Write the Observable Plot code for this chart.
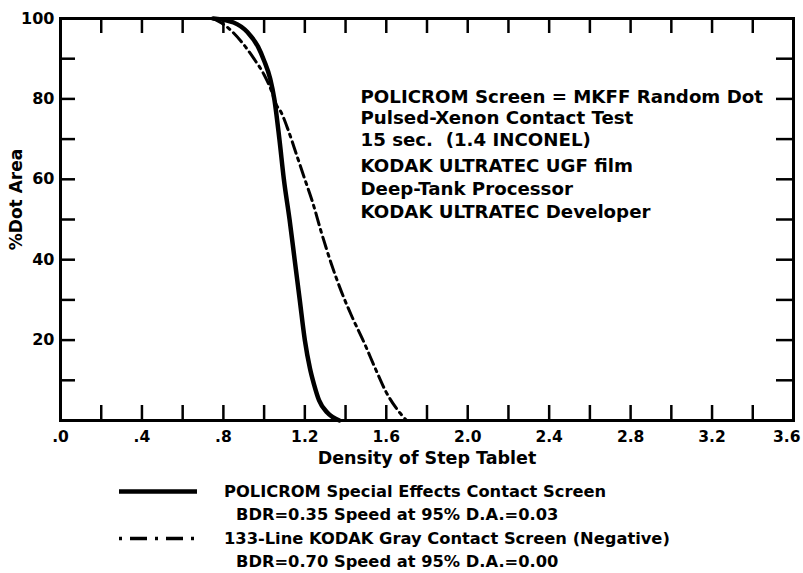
<!DOCTYPE html>
<html>
<head>
<meta charset="utf-8">
<script src="https://cdn.jsdelivr.net/npm/d3@7"></script>
<script src="https://cdn.jsdelivr.net/npm/@observablehq/plot@0.6"></script>
<style>
  html, body { margin: 0; padding: 0; background: #fff; }
  #wrap { position: relative; width: 803px; height: 573px; overflow: hidden; font-family: "DejaVu Sans", sans-serif; font-weight: bold; color: #000; }
  #legend { position: absolute; left: 0; top: 470px; width: 803px; height: 103px; }
  .lrow { position: absolute; left: 0; width: 803px; height: 23px; }
  .lrow svg { position: absolute; left: 118px; top: 0; }
  .ltext { position: absolute; font-size: 16.3px; line-height: 23px; white-space: nowrap; }
</style>
</head>
<body>
<div id="wrap">
  <div id="chart"></div>
  <div id="legend"></div>
</div>
<script>
// ---- data ----
const policromDensity = [0.75, 0.85, 0.92, 0.97, 1.00, 1.03, 1.05, 1.075, 1.097, 1.125, 1.15, 1.175, 1.20, 1.225, 1.245, 1.27, 1.31, 1.37];
const policromDotArea = [100, 99, 96.5, 93, 89.5, 85, 80, 70, 60, 50, 40, 30, 20, 13, 9, 5, 2, 0];

const grayDensity = [0.75, 0.82, 0.90, 0.95, 1.00, 1.04, 1.06, 1.08, 1.12, 1.16, 1.20, 1.24, 1.28, 1.33, 1.38, 1.43, 1.49, 1.55, 1.60, 1.65, 1.70];
const grayDotArea = [100, 97.8, 93.5, 90, 86, 81.5, 78.5, 77, 72, 66, 60, 54, 47, 39, 32, 26, 19.5, 12.5, 7, 3, 0];

const xTickValues = [0, 0.4, 0.8, 1.2, 1.6, 2.0, 2.4, 2.8, 3.2, 3.6];
const xTickLabels = [".0", ".4", ".8", "1.2", "1.6", "2.0", "2.4", "2.8", "3.2", "3.6"];
const xMinorTicks = [0.2, 0.4, 0.6, 0.8, 1.0, 1.2, 1.4, 1.6, 1.8, 2.0, 2.2, 2.4, 2.6, 2.8, 3.0, 3.2, 3.4];
const yTickValues = [20, 40, 60, 80, 100];
const yTickLabels = ["20", "40", "60", "80", "100"];
const yMinorTicks = [10, 20, 30, 40, 50, 60, 70, 80, 90];

const xAxisLabel = "Density of Step Tablet";
const yAxisLabel = "%Dot Area";
const annotationGroup1 = ["POLICROM Screen = MKFF Random Dot", "Pulsed-Xenon Contact Test", "15 sec.  (1.4 INCONEL)"];
const annotationGroup2 = ["KODAK ULTRATEC UGF film", "Deep-Tank Processor", "KODAK ULTRATEC Developer"];

const seriesNames = ["POLICROM Special Effects Contact Screen", "133-Line KODAK Gray Contact Screen (Negative)"];
const seriesNotes = ["BDR=0.35 Speed at 95% D.A.=0.03", "BDR=0.70 Speed at 95% D.A.=0.00"];

// ---- build tables ----
const policrom = policromDensity.map((x, i) => ({x, y: policromDotArea[i]}));
const gray = grayDensity.map((x, i) => ({x, y: grayDotArea[i]}));
const xLabelData = xTickValues.map((v, i) => ({v, label: xTickLabels[i]}));
const yLabelData = yTickValues.map((v, i) => ({v, label: yTickLabels[i]}));

const W = 803, H = 470;
const mL = 60, mR = 10, mT = 18, mB = 50;
const innerW = W - mL - mR, innerH = H - mT - mB;
const xDomain = [0, 3.6], yDomain = [0, 100];
// tick lengths (pixels) expressed in data units so rules go through the scales
const tickPx = 15, rightTickPx = 17;
const tickLenY = tickPx * (yDomain[1] - yDomain[0]) / innerH;
const tickLenX = tickPx * (xDomain[1] - xDomain[0]) / innerW;
const rightLenX = rightTickPx * (xDomain[1] - xDomain[0]) / innerW;

const chart = Plot.plot({
  width: W,
  height: H,
  marginLeft: mL,
  marginRight: mR,
  marginTop: mT,
  marginBottom: mB,
  style: {fontFamily: "DejaVu Sans, sans-serif", fontWeight: "bold", fontSize: "17px", color: "#000", background: "#fff", overflow: "visible"},
  x: {domain: xDomain, axis: null},
  y: {domain: yDomain, axis: null},
  marks: [
    // inward ticks
    Plot.ruleX(xMinorTicks, {x: d => d, y1: yDomain[0], y2: yDomain[0] + tickLenY, stroke: "#000", strokeWidth: 2.5}),
    Plot.ruleX(xMinorTicks, {x: d => d, y1: yDomain[1], y2: yDomain[1] - tickLenY, stroke: "#000", strokeWidth: 2.5}),
    Plot.ruleY(yMinorTicks, {y: d => d, x1: xDomain[0], x2: xDomain[0] + tickLenX, stroke: "#000", strokeWidth: 2.5}),
    Plot.ruleY(yMinorTicks, {y: d => d, x1: xDomain[1], x2: xDomain[1] - rightLenX, stroke: "#000", strokeWidth: 2.5}),
    Plot.frame({stroke: "#000", strokeWidth: 3}),
    // tick labels
    Plot.text(xLabelData.slice(0, -1), {x: "v", text: "label", frameAnchor: "bottom", dy: 17, lineAnchor: "middle", fontSize: 15.5, fill: "#000"}),
    Plot.text(xLabelData.slice(-1), {x: "v", text: "label", frameAnchor: "bottom", dy: 17, dx: 7, lineAnchor: "middle", textAnchor: "end", fontSize: 15.5, fill: "#000"}),
    Plot.text(yLabelData, {y: "v", text: "label", frameAnchor: "left", dx: -6, textAnchor: "end", fontSize: 16, fill: "#000"}),
    // axis titles
    Plot.text([xAxisLabel], {text: d => d, frameAnchor: "bottom", dy: 38, lineAnchor: "middle", fontSize: 17.5, fill: "#000"}),
    Plot.text([yAxisLabel], {text: d => d, frameAnchor: "left", textAnchor: "middle", dx: -44, dy: -20, rotate: -90, fontSize: 17, fill: "#000"}),
    // annotation block
    Plot.text([annotationGroup1.join("\n")], {text: d => d, frameAnchor: "top-left", dx: 300, dy: 69, lineAnchor: "top", textAnchor: "start", lineHeight: 1.18, fontSize: 18.2, fill: "#000"}),
    Plot.text([annotationGroup2.join("\n")], {text: d => d, frameAnchor: "top-left", dx: 300, dy: 137, lineAnchor: "top", textAnchor: "start", lineHeight: 1.27, fontSize: 18.2, fill: "#000"}),
    // curves
    Plot.line(gray, {x: "x", y: "y", curve: "monotone-x", stroke: "#000", strokeWidth: 3, strokeDasharray: "12,5,3,5"}),
    Plot.line(policrom, {x: "x", y: "y", curve: "monotone-x", stroke: "#000", strokeWidth: 4.5})
  ]
});
document.getElementById("chart").appendChild(chart);

// ---- legend below the chart ----
const legend = document.getElementById("legend");
const rowTops = [10, 33, 57, 80];
const styles = [
  {dash: null, width: 4.5},
  {dash: "3,8,17,8", width: 3.5}
];
seriesNames.forEach((name, i) => {
  const r1 = document.createElement("div");
  r1.className = "lrow";
  r1.style.top = rowTops[i * 2] + "px";
  const svg = d3.create("svg").attr("width", 80).attr("height", 23);
  svg.append("line").attr("x1", 1).attr("x2", 79).attr("y1", 11.5).attr("y2", 11.5)
    .attr("stroke", "#000").attr("stroke-width", styles[i].width)
    .attr("stroke-dasharray", styles[i].dash);
  r1.appendChild(svg.node());
  const t1 = document.createElement("div");
  t1.className = "ltext";
  t1.style.left = "224px";
  t1.textContent = name;
  r1.appendChild(t1);
  legend.appendChild(r1);

  const r2 = document.createElement("div");
  r2.className = "lrow";
  r2.style.top = rowTops[i * 2 + 1] + "px";
  const t2 = document.createElement("div");
  t2.className = "ltext";
  t2.style.left = "236px";
  t2.textContent = seriesNotes[i];
  r2.appendChild(t2);
  legend.appendChild(r2);
});
</script>
</body>
</html>
